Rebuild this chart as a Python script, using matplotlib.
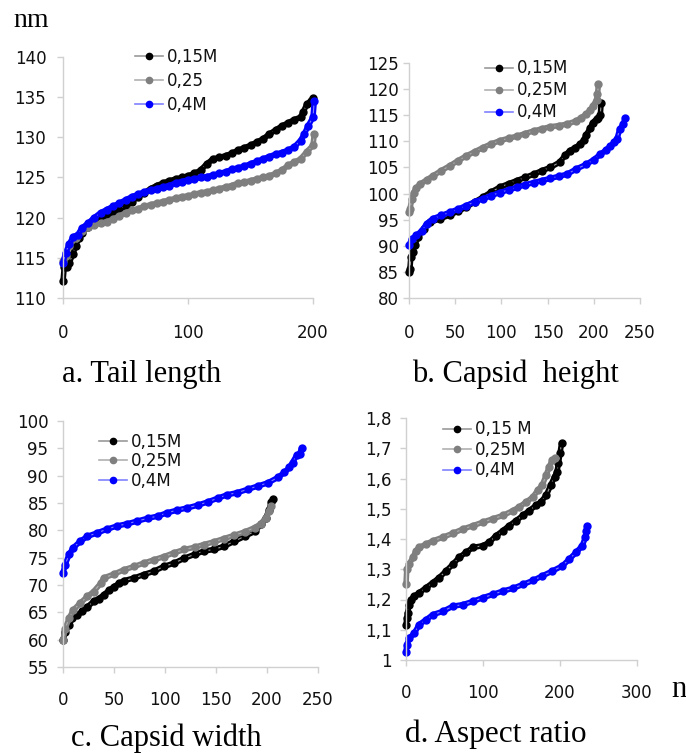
import matplotlib
matplotlib.use("Agg")
import matplotlib.pyplot as plt
from matplotlib.lines import Line2D

plt.rcParams['font.family'] = ['DejaVu Sans']

# ---------------- data ----------------
labels_a = ["0,15M", "0,25", "0,4M"]
labels_b = ["0,15M", "0,25M", "0,4M"]
labels_c = ["0,15M", "0,25M", "0,4M"]
labels_d = ["0,15 M", "0,25M", "0,4M"]

# a. Tail length
a_n_015 = [0, 1, 3, 5, 8, 10, 13, 15, 20, 25, 30, 35, 40, 45, 50, 55, 60, 65, 70, 75, 80, 85, 90, 95, 100, 105, 110, 115, 120, 125, 130, 135, 140, 145, 150, 155, 160, 165, 170, 175, 180, 185, 190, 192, 195, 198, 200]
a_v_015 = [112.1, 113.8, 113.9, 114.4, 115.5, 116.5, 117.5, 118.1, 118.9, 119.4, 119.8, 120.2, 120.6, 121.0, 121.5, 122.0, 122.6, 123.1, 123.6, 124.0, 124.3, 124.6, 124.8, 125.0, 125.2, 125.5, 125.9, 126.7, 127.3, 127.5, 127.7, 128.0, 128.4, 128.7, 129.0, 129.4, 129.8, 130.4, 130.9, 131.4, 131.8, 132.2, 132.5, 133.1, 134.1, 134.5, 134.9]
a_n_025 = [0, 2, 5, 10, 15, 20, 25, 30, 35, 40, 45, 50, 55, 60, 65, 70, 75, 80, 85, 90, 95, 100, 105, 110, 115, 120, 125, 130, 135, 140, 145, 150, 155, 160, 165, 170, 175, 180, 185, 190, 195, 200, 201]
a_v_025 = [114.6, 115.2, 116.5, 117.5, 118.3, 118.9, 119.1, 119.3, 119.5, 119.8, 120.2, 120.6, 120.9, 121.1, 121.4, 121.6, 121.8, 122.0, 122.2, 122.4, 122.6, 122.7, 122.9, 123.1, 123.2, 123.4, 123.6, 123.8, 124.0, 124.3, 124.4, 124.6, 124.8, 125.0, 125.2, 125.5, 125.9, 126.5, 126.9, 127.3, 128.2, 129.0, 130.4]
a_n_04 = [0, 2, 5, 8, 12, 15, 20, 25, 30, 35, 40, 45, 50, 55, 60, 65, 70, 75, 80, 85, 90, 95, 100, 105, 110, 115, 120, 125, 130, 135, 140, 145, 150, 155, 160, 165, 170, 175, 180, 185, 190, 193, 196, 200, 201]
a_v_04 = [114.4, 115.6, 116.7, 117.6, 117.9, 118.7, 119.3, 120.0, 120.6, 121.0, 121.4, 121.8, 122.2, 122.6, 122.9, 123.2, 123.4, 123.6, 123.8, 124.0, 124.3, 124.5, 124.7, 124.8, 125.0, 125.1, 125.3, 125.5, 125.7, 126.0, 126.2, 126.4, 126.7, 127.0, 127.3, 127.6, 127.9, 128.1, 128.4, 128.8, 129.6, 130.4, 131.4, 132.5, 134.5]

# b. Capsid height
b_n_015 = [0, 1, 2, 4, 6, 10, 16, 23, 34, 44, 53, 62, 71, 80, 89, 98, 108, 117, 126, 135, 144, 153, 163, 169, 174, 180, 185, 189, 192, 196, 199, 203, 205, 207, 208]
b_v_015 = [85.0, 85.6, 87.9, 88.8, 90.1, 91.7, 93.3, 94.5, 95.2, 95.9, 96.6, 97.4, 98.4, 99.3, 100.3, 101.2, 101.9, 102.5, 103.1, 103.7, 104.4, 105.0, 106.0, 107.3, 108.2, 108.8, 109.4, 110.2, 111.3, 112.5, 113.6, 114.3, 114.5, 115.0, 117.4]
b_n_025 = [0, 1, 3, 5, 8, 12, 19, 26, 35, 44, 53, 62, 71, 80, 89, 98, 108, 117, 126, 135, 144, 153, 162, 171, 181, 186, 192, 196, 199, 203, 204, 205]
b_v_025 = [96.4, 97.0, 99.0, 100.2, 101.1, 101.8, 102.6, 103.4, 104.4, 105.3, 106.3, 107.2, 108.0, 108.8, 109.5, 110.1, 110.6, 111.0, 111.5, 112.0, 112.4, 112.8, 113.0, 113.3, 113.9, 114.5, 115.2, 116.0, 116.7, 118.0, 119.0, 120.9]
b_n_04 = [0, 3, 8, 14, 19, 26, 35, 44, 53, 62, 71, 80, 89, 98, 108, 117, 126, 135, 144, 153, 162, 171, 181, 192, 200, 207, 213, 218, 222, 225, 228, 232, 234]
b_v_04 = [90.1, 91.3, 92.0, 92.9, 94.2, 95.2, 95.8, 96.4, 97.0, 97.7, 98.4, 99.0, 99.6, 100.2, 100.7, 101.2, 101.7, 102.1, 102.5, 102.9, 103.3, 103.7, 104.7, 105.6, 106.5, 107.5, 108.3, 109.1, 109.8, 110.4, 112.3, 113.3, 114.5]

# c. Capsid width
c_n_015 = [0, 2, 6, 9, 14, 19, 24, 30, 35, 40, 45, 50, 55, 60, 70, 79, 89, 99, 109, 119, 129, 138, 148, 158, 168, 178, 188, 194, 199, 202, 204, 206]
c_v_015 = [59.9, 61.4, 62.7, 63.9, 64.5, 65.2, 66.0, 67.0, 67.5, 68.2, 69.0, 69.7, 70.3, 70.8, 71.3, 71.9, 72.5, 73.4, 74.0, 74.9, 75.6, 76.2, 76.5, 77.1, 78.0, 78.9, 79.8, 81.1, 82.3, 83.8, 85.1, 85.7]
c_n_025 = [0, 2, 6, 10, 17, 24, 30, 37, 40, 50, 60, 70, 79, 89, 99, 109, 119, 129, 138, 148, 158, 168, 178, 188, 194, 199, 202, 204]
c_v_025 = [59.9, 62.0, 63.9, 65.4, 66.7, 67.9, 68.8, 70.3, 71.3, 72.0, 72.8, 73.4, 74.0, 74.6, 75.2, 75.9, 76.5, 76.9, 77.4, 77.9, 78.5, 79.1, 79.7, 80.5, 81.2, 82.3, 83.5, 84.4]
c_n_04 = [0, 2, 6, 10, 17, 24, 33, 43, 53, 63, 73, 83, 93, 102, 112, 122, 132, 142, 152, 161, 171, 181, 191, 201, 211, 217, 222, 225, 229, 232, 234]
c_v_04 = [72.2, 73.7, 75.6, 76.8, 78.0, 78.9, 79.5, 80.2, 80.8, 81.2, 81.7, 82.2, 82.6, 83.2, 83.7, 84.1, 84.6, 85.2, 85.9, 86.5, 86.9, 87.5, 88.1, 88.7, 89.7, 90.6, 91.5, 92.4, 93.7, 94.0, 95.1]

# d. Aspect ratio
d_n_015 = [0, 1, 2, 4, 6, 11, 17, 26, 35, 43, 52, 61, 69, 78, 87, 100, 108, 117, 126, 134, 143, 152, 160, 169, 175, 182, 188, 193, 196, 198, 200, 202]
d_v_015 = [1.117, 1.139, 1.156, 1.183, 1.200, 1.211, 1.222, 1.239, 1.256, 1.272, 1.294, 1.317, 1.339, 1.356, 1.372, 1.378, 1.389, 1.411, 1.428, 1.444, 1.461, 1.478, 1.494, 1.511, 1.522, 1.544, 1.578, 1.606, 1.622, 1.650, 1.683, 1.717]
d_n_025 = [0, 1, 4, 9, 13, 17, 26, 35, 48, 61, 74, 87, 100, 113, 126, 139, 147, 156, 165, 171, 177, 182, 186, 190, 193]
d_v_025 = [1.250, 1.300, 1.317, 1.339, 1.361, 1.372, 1.383, 1.394, 1.406, 1.419, 1.433, 1.444, 1.456, 1.467, 1.478, 1.494, 1.506, 1.522, 1.539, 1.561, 1.578, 1.611, 1.639, 1.661, 1.667]
d_n_04 = [0, 1, 4, 11, 17, 26, 35, 48, 61, 74, 87, 100, 113, 126, 139, 152, 165, 177, 190, 203, 212, 221, 229, 233, 234, 235]
d_v_04 = [1.028, 1.050, 1.072, 1.089, 1.117, 1.133, 1.150, 1.161, 1.178, 1.183, 1.194, 1.206, 1.217, 1.228, 1.237, 1.250, 1.263, 1.278, 1.294, 1.311, 1.333, 1.356, 1.378, 1.406, 1.428, 1.444]

a_yticks = [110, 115, 120, 125, 130, 135, 140]
b_yticks = [80, 85, 90, 95, 100, 105, 110, 115, 120, 125]
c_yticks = [55, 60, 65, 70, 75, 80, 85, 90, 95, 100]
d_yticks = [1.0, 1.1, 1.2, 1.3, 1.4, 1.5, 1.6, 1.7, 1.8]
d_yticklabels = ["1", "1,1", "1,2", "1,3", "1,4", "1,5", "1,6", "1,7", "1,8"]
a_xticks = [0, 100, 200]
b_xticks = [0, 50, 100, 150, 200, 250]
c_xticks = [0, 50, 100, 150, 200, 250]
d_xticks = [0, 100, 200, 300]

# ---------------- style ----------------
marker_cols = ["#000000", "#7f7f7f", "#0000ff"]
line_cols = ["#9a9a9a", "#b0b0b0", "#8080ff"]
W, H = 686, 753
FS = 12

fig = plt.figure(figsize=(6.86, 7.53), dpi=100)


def make_axes(left, right, top, bottom):
    return fig.add_axes([left / W, 1 - bottom / H, (right - left) / W, (bottom - top) / H])


def style_axes(ax, xlim, ylim, xticks, yticks, ypad, xpad, yticklabels=None):
    ax.set_xlim(*xlim)
    ax.set_ylim(*ylim)
    for s in ["top", "right"]:
        ax.spines[s].set_visible(False)
    for s in ["left", "bottom"]:
        ax.spines[s].set_color("#d0d0d0")
        ax.spines[s].set_linewidth(1.0)
    ax.set_xticks(xticks)
    ax.set_xticklabels([str(t) for t in xticks])
    ax.set_yticks(yticks)
    ax.set_yticklabels(yticklabels if yticklabels else [str(t) for t in yticks])
    ax.tick_params(axis="x", length=4, width=1, color="#d0d0d0", pad=xpad, labelsize=FS, labelcolor="#111111")
    ax.tick_params(axis="y", length=4, width=1, color="#d0d0d0", pad=ypad, labelsize=FS, labelcolor="#111111")
    ax.patch.set_alpha(0)


def draw_series(ax, n, v, i):
    ax.plot(n, v, color=marker_cols[i], lw=4.0, solid_capstyle="round", solid_joinstyle="round",
            clip_on=False, zorder=2 + i * 0.1)
    ax.plot(n, v, color=line_cols[i], lw=0.8, marker="o", ms=5.0, mfc=marker_cols[i], mec=marker_cols[i],
            clip_on=False, zorder=2.05 + i * 0.1)


def add_legend(ax, labels, anchor, spacing):
    handles = [Line2D([0], [0], color=line_cols[i], lw=1.2, marker="o", ms=4.5, mfc=marker_cols[i],
                      mec=marker_cols[i]) for i in range(3)]
    leg = ax.legend(handles, labels, loc="upper left", bbox_to_anchor=anchor, frameon=False, fontsize=FS,
                    handlelength=1.7, handletextpad=0.2, borderpad=0, borderaxespad=0, labelspacing=spacing)
    for t in leg.get_texts():
        t.set_color("#111111")


# a
ax_a = make_axes(63, 313, 57, 298)
style_axes(ax_a, (0, 200), (110, 140), a_xticks, a_yticks, 8.0, 14.5)
for i, (n, v) in enumerate([(a_n_015, a_v_015), (a_n_025, a_v_025), (a_n_04, a_v_04)]):
    draw_series(ax_a, n, v, i)
add_legend(ax_a, labels_a, (0.288, 1.039), 0.36)

# b
ax_b = make_axes(409, 640, 63, 298)
style_axes(ax_b, (0, 250), (80, 125), b_xticks, b_yticks, 3.5, 14.5)
for i, (n, v) in enumerate([(b_n_015, b_v_015), (b_n_025, b_v_025), (b_n_04, b_v_04)]):
    draw_series(ax_b, n, v, i)
add_legend(ax_b, labels_b, (0.329, 1.015), 0.24)

# c
ax_c = make_axes(63, 318, 421, 667)
style_axes(ax_c, (0, 250), (55, 100), c_xticks, c_yticks, 6.5, 13.5)
for i, (n, v) in enumerate([(c_n_015, c_v_015), (c_n_025, c_v_025), (c_n_04, c_v_04)]):
    draw_series(ax_c, n, v, i)
add_legend(ax_c, labels_c, (0.141, 0.953), 0.09)

# d
ax_d = make_axes(406, 637, 418, 660)
style_axes(ax_d, (0, 300), (1.0, 1.8), d_xticks, d_yticks, 6.5, 13.5, d_yticklabels)
for i, (n, v) in enumerate([(d_n_015, d_v_015), (d_n_025, d_v_025), (d_n_04, d_v_04)]):
    draw_series(ax_d, n, v, i)
add_legend(ax_d, labels_d, (0.16, 0.99), 0.15)

serif = ["Liberation Serif", "DejaVu Serif"]
fig.text(13 / W, 1 - 27 / H, "nm", family=serif, fontsize=20, ha="left", va="baseline")
fig.text(671 / W, 1 - 697 / H, "n", family=serif, fontsize=22, ha="left", va="baseline")
fig.text(62 / W, 1 - 382 / H, "a. Tail length", family=serif, fontsize=22, ha="left", va="baseline")
fig.text(412 / W, 1 - 382 / H, "b. Capsid  height", family=serif, fontsize=22, ha="left", va="baseline")
fig.text(71 / W, 1 - 746 / H, "c. Capsid width", family=serif, fontsize=22, ha="left", va="baseline")
fig.text(405 / W, 1 - 742 / H, "d. Aspect ratio", family=serif, fontsize=22.5, ha="left", va="baseline")

fig.savefig("out.png", dpi=100)
